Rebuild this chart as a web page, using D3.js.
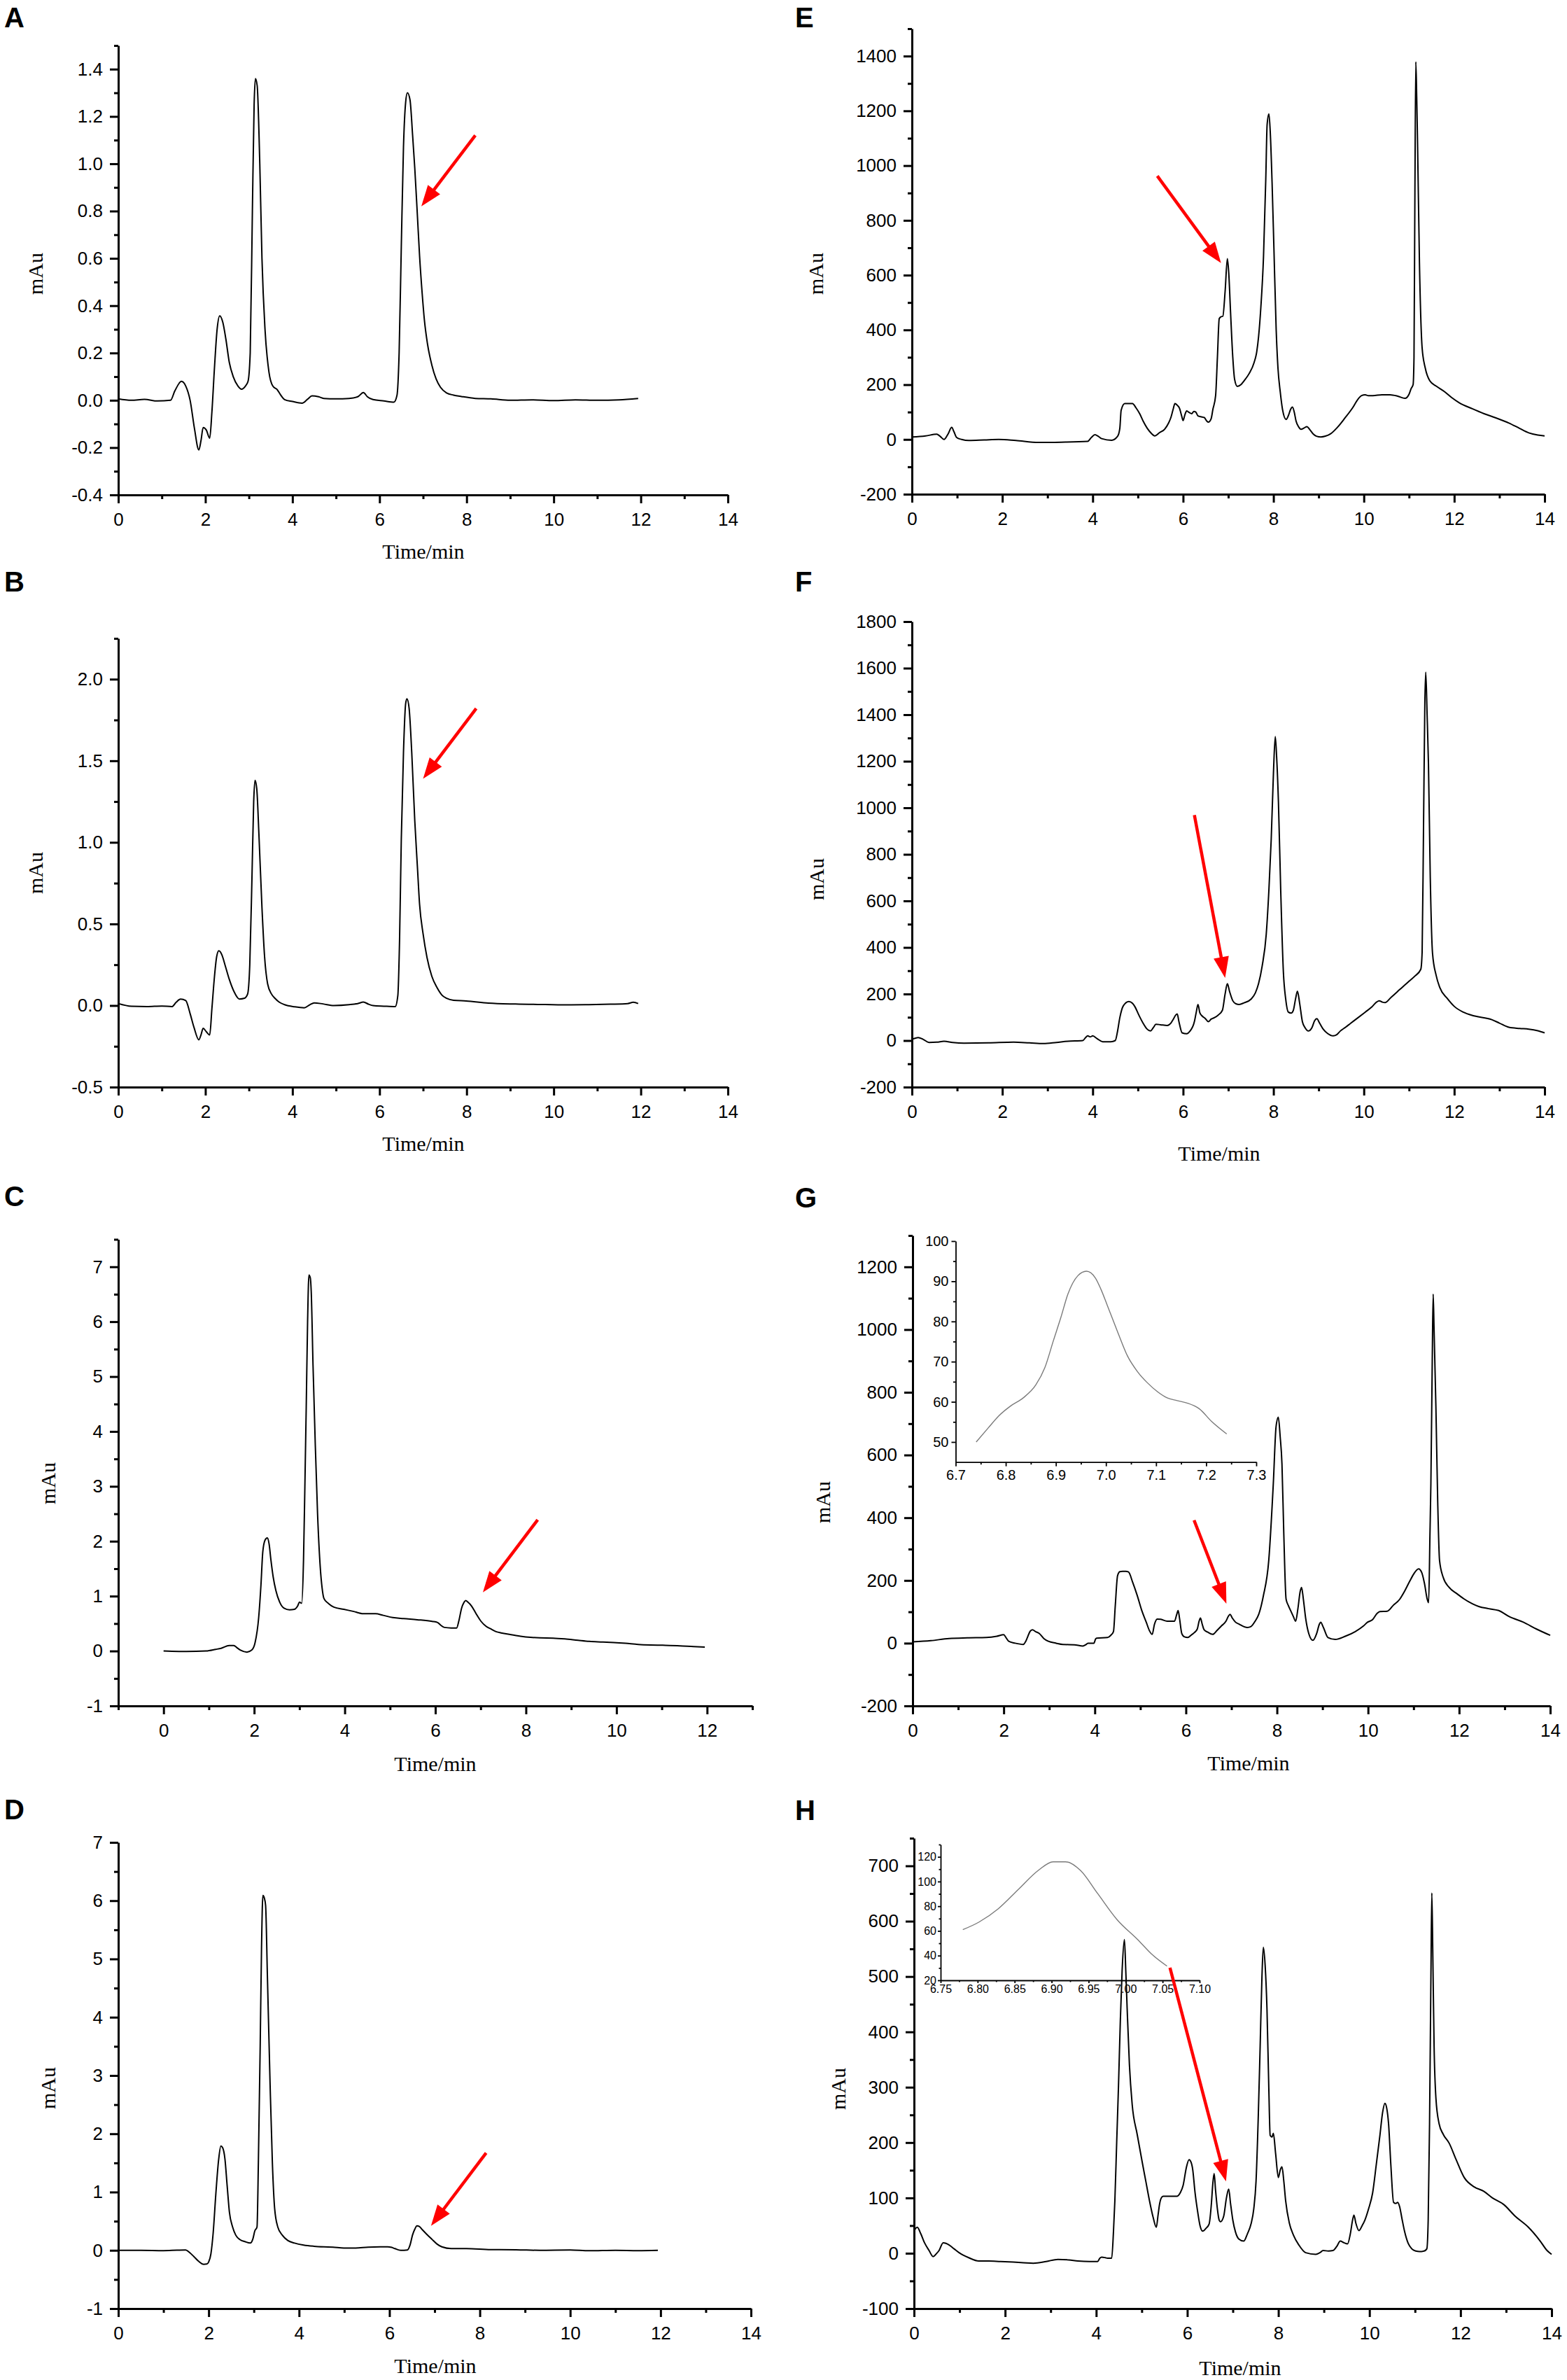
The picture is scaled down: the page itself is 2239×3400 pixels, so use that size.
<!DOCTYPE html>
<html><head><meta charset="utf-8">
<script src="https://cdn.jsdelivr.net/npm/d3@7"></script>
<style>body{margin:0;background:#fff}svg{display:block}</style>
</head><body>
<svg id="chart" width="2239" height="3400"></svg>
<script>
// ---------------- DATA ----------------
const seriesA = [[0,0.006],[0.3,0.0],[0.6,0.004],[0.9,-0.003],[1.2,0.0],[1.3,0.04],[1.45,0.08],[1.55,0.06],[1.65,0.0],[1.75,-0.12],[1.85,-0.21],[1.9,-0.17],[1.95,-0.115],[2.02,-0.125],[2.1,-0.16],[2.15,-0.05],[2.21,0.14],[2.27,0.3],[2.33,0.357],[2.4,0.33],[2.47,0.26],[2.55,0.16],[2.64,0.1],[2.75,0.06],[2.83,0.047],[2.92,0.06],[2.98,0.08],[3.03,0.2],[3.08,0.8],[3.12,1.25],[3.15,1.36],[3.19,1.33],[3.25,1.0],[3.3,0.6],[3.37,0.3],[3.46,0.12],[3.55,0.06],[3.65,0.045],[3.72,0.025],[3.82,0.003],[4.0,-0.005],[4.22,-0.012],[4.35,0.005],[4.45,0.019],[4.6,0.015],[4.72,0.008],[5.0,0.006],[5.3,0.008],[5.5,0.015],[5.63,0.033],[5.72,0.015],[5.85,0.003],[6.1,-0.003],[6.33,-0.008],[6.4,0.02],[6.45,0.2],[6.5,0.65],[6.55,1.07],[6.6,1.26],[6.64,1.30],[6.7,1.27],[6.76,1.12],[6.81,0.98],[6.87,0.78],[6.92,0.61],[6.98,0.45],[7.03,0.34],[7.1,0.24],[7.2,0.15],[7.3,0.09],[7.4,0.055],[7.54,0.031],[7.7,0.022],[7.88,0.016],[8.2,0.008],[8.56,0.006],[9.0,0.0],[9.5,0.002],[10.0,-0.001],[10.5,0.002],[11.0,0.0],[11.5,0.002],[11.94,0.008]];
const seriesB = [[0,0.012],[0.3,-0.005],[0.66,-0.007],[1.0,-0.003],[1.23,-0.007],[1.33,0.02],[1.43,0.04],[1.55,0.03],[1.65,-0.05],[1.74,-0.135],[1.85,-0.21],[1.9,-0.18],[1.95,-0.14],[2.02,-0.16],[2.1,-0.18],[2.15,-0.02],[2.21,0.18],[2.26,0.3],[2.31,0.335],[2.38,0.31],[2.45,0.25],[2.55,0.16],[2.65,0.09],[2.78,0.04],[2.9,0.045],[2.97,0.07],[3.02,0.25],[3.07,0.78],[3.11,1.25],[3.14,1.38],[3.18,1.33],[3.23,1.05],[3.3,0.6],[3.36,0.3],[3.43,0.133],[3.52,0.07],[3.6,0.044],[3.7,0.02],[3.82,0.005],[4.05,-0.008],[4.27,-0.014],[4.4,0.005],[4.5,0.016],[4.7,0.01],[4.95,0.0],[5.3,0.005],[5.5,0.012],[5.63,0.021],[5.75,0.008],[5.85,0.0],[6.1,-0.004],[6.36,-0.007],[6.42,0.06],[6.46,0.4],[6.5,1.02],[6.55,1.55],[6.6,1.85],[6.63,1.88],[6.68,1.82],[6.74,1.55],[6.81,1.13],[6.87,0.85],[6.92,0.62],[7.0,0.44],[7.09,0.295],[7.2,0.18],[7.32,0.11],[7.43,0.065],[7.54,0.044],[7.7,0.032],[7.99,0.028],[8.5,0.015],[9.12,0.009],[9.8,0.006],[10.4,0.004],[10.81,0.005],[11.3,0.008],[11.7,0.012],[11.83,0.02],[11.94,0.012]];
const seriesC = [[0,0],[0.5,-0.01],[0.94,0],[1.15,0.03],[1.27,0.05],[1.45,0.1],[1.55,0.1],[1.62,0.06],[1.7,0.014],[1.84,-0.02],[1.95,0.02],[2.02,0.15],[2.1,0.61],[2.15,1.2],[2.19,1.8],[2.24,2.02],[2.29,2.06],[2.33,1.95],[2.37,1.66],[2.42,1.35],[2.48,1.1],[2.57,0.88],[2.66,0.78],[2.78,0.75],[2.89,0.76],[2.96,0.82],[3.0,0.89],[3.05,0.87],[3.09,1.66],[3.12,3.0],[3.15,4.45],[3.18,6.0],[3.21,6.85],[3.24,6.8],[3.26,6.55],[3.3,5.2],[3.35,3.75],[3.4,2.5],[3.46,1.52],[3.5,1.15],[3.54,0.96],[3.65,0.86],[3.76,0.80],[3.98,0.76],[4.2,0.72],[4.41,0.68],[4.68,0.68],[4.85,0.65],[5.06,0.61],[5.3,0.59],[5.6,0.57],[5.93,0.54],[6.05,0.52],[6.12,0.47],[6.2,0.43],[6.35,0.42],[6.47,0.42],[6.52,0.55],[6.58,0.78],[6.63,0.88],[6.67,0.92],[6.72,0.89],[6.8,0.82],[6.9,0.68],[7.01,0.54],[7.12,0.45],[7.23,0.40],[7.35,0.35],[7.45,0.33],[7.65,0.30],[7.88,0.27],[8.1,0.25],[8.31,0.24],[8.6,0.235],[8.86,0.22],[9.15,0.195],[9.4,0.175],[9.7,0.165],[9.94,0.155],[10.2,0.14],[10.48,0.12],[10.75,0.11],[11.02,0.105],[11.4,0.095],[11.7,0.08],[11.95,0.07]];
const seriesD = [[0,0],[0.5,0.0],[1.0,-0.005],[1.3,0.003],[1.49,0.007],[1.58,-0.04],[1.67,-0.105],[1.78,-0.19],[1.89,-0.24],[1.96,-0.235],[2.0,-0.2],[2.05,-0.06],[2.1,0.3],[2.16,0.98],[2.22,1.55],[2.27,1.79],[2.31,1.76],[2.36,1.57],[2.41,1.1],[2.46,0.65],[2.53,0.4],[2.6,0.26],[2.7,0.18],[2.8,0.15],[2.92,0.125],[2.98,0.2],[3.02,0.33],[3.07,0.4],[3.1,1.5],[3.14,3.49],[3.17,5.2],[3.2,6.09],[3.23,6.05],[3.26,5.92],[3.3,4.7],[3.36,2.83],[3.41,1.5],[3.46,0.72],[3.53,0.4],[3.63,0.26],[3.75,0.17],[3.9,0.125],[4.1,0.09],[4.33,0.07],[4.55,0.06],[4.75,0.055],[4.99,0.04],[5.25,0.04],[5.53,0.055],[5.8,0.06],[5.96,0.06],[6.05,0.05],[6.12,0.03],[6.25,0.0],[6.4,0.007],[6.46,0.1],[6.51,0.26],[6.56,0.36],[6.61,0.42],[6.66,0.41],[6.72,0.36],[6.82,0.28],[6.94,0.19],[7.05,0.11],[7.16,0.06],[7.37,0.03],[7.7,0.03],[8.24,0.013],[8.8,0.01],[9.33,0.0],[10.0,0.005],[10.42,-0.007],[11.0,0.0],[11.5,-0.005],[11.94,0]];
const seriesE = [[0,9],[0.3,13],[0.55,19],[0.62,12],[0.71,0],[0.8,20],[0.88,44],[0.93,28],[0.99,7],[1.1,0],[1.26,-4],[1.6,-2],[1.92,0],[2.3,-4],[2.8,-11],[3.3,-10],[3.89,-7],[3.97,7],[4.05,17],[4.12,12],[4.2,3],[4.42,-3],[4.55,11],[4.6,40],[4.63,107],[4.71,131],[4.88,131],[4.96,115],[5.04,94],[5.12,66],[5.21,40],[5.3,22],[5.37,13],[5.48,25],[5.59,37],[5.68,60],[5.73,80],[5.78,110],[5.82,131],[5.87,125],[5.92,114],[5.97,85],[6.0,69],[6.04,90],[6.08,104],[6.14,98],[6.19,94],[6.24,102],[6.28,100],[6.33,86],[6.39,83],[6.47,80],[6.52,68],[6.56,63],[6.62,75],[6.66,110],[6.72,160],[6.76,300],[6.8,441],[6.84,448],[6.88,450],[6.93,540],[6.98,660],[7.01,610],[7.05,467],[7.1,300],[7.14,220],[7.2,194],[7.28,200],[7.35,214],[7.46,240],[7.57,280],[7.63,320],[7.67,374],[7.72,480],[7.78,668],[7.83,950],[7.86,1150],[7.9,1189],[7.93,1120],[7.97,935],[8.01,700],[8.06,401],[8.1,260],[8.15,174],[8.2,110],[8.28,73],[8.33,87],[8.38,110],[8.42,118],[8.46,100],[8.5,67],[8.56,45],[8.61,37],[8.68,42],[8.74,47],[8.8,37],[8.88,20],[8.95,12],[9.05,9],[9.15,12],[9.26,20],[9.42,45],[9.59,80],[9.75,115],[9.87,147],[9.95,160],[10.03,163],[10.1,160],[10.2,160],[10.4,163],[10.58,163],[10.75,158],[10.91,150],[11.0,165],[11.05,187],[11.09,200],[11.11,300],[11.13,900],[11.15,1379],[11.17,1250],[11.19,1069],[11.23,650],[11.29,334],[11.36,260],[11.46,214],[11.6,195],[11.79,174],[11.95,152],[12.11,134],[12.4,112],[12.66,94],[12.9,80],[13.21,60],[13.45,40],[13.65,24],[13.85,16],[14.0,13]];
const seriesF = [[0,5],[0.14,13],[0.25,5],[0.38,-8],[0.55,-7],[0.71,-3],[0.9,-8],[1.15,-11],[1.7,-10],[2.25,-7],[2.6,-10],[2.91,-13],[3.2,-8],[3.45,-3],[3.78,0],[3.84,12],[3.89,20],[3.95,16],[4.0,20],[4.1,8],[4.22,-5],[4.4,-5],[4.5,0],[4.55,40],[4.6,98],[4.68,150],[4.8,168],[4.88,160],[4.93,147],[5.02,110],[5.12,73],[5.2,50],[5.28,41],[5.34,55],[5.4,70],[5.5,68],[5.65,65],[5.73,75],[5.78,90],[5.84,110],[5.87,114],[5.91,80],[5.98,33],[6.08,29],[6.15,40],[6.25,81],[6.29,120],[6.33,155],[6.37,120],[6.42,106],[6.49,95],[6.56,81],[6.62,92],[6.69,98],[6.78,110],[6.87,130],[6.93,200],[6.98,244],[7.03,210],[7.1,171],[7.17,158],[7.24,155],[7.35,162],[7.51,179],[7.6,205],[7.67,244],[7.75,320],[7.84,456],[7.9,650],[7.95,863],[8.0,1150],[8.04,1306],[8.07,1220],[8.11,1026],[8.16,650],[8.22,293],[8.27,180],[8.33,122],[8.39,118],[8.44,130],[8.49,180],[8.53,212],[8.58,160],[8.64,81],[8.7,55],[8.77,41],[8.85,55],[8.91,85],[8.96,94],[9.02,75],[9.1,49],[9.2,30],[9.32,20],[9.4,25],[9.48,41],[9.6,58],[9.7,73],[9.85,95],[10.03,122],[10.18,145],[10.28,165],[10.34,171],[10.41,165],[10.47,163],[10.6,185],[10.8,220],[11.0,255],[11.13,277],[11.26,306],[11.29,380],[11.32,900],[11.35,1450],[11.37,1583],[11.4,1400],[11.43,1189],[11.47,700],[11.52,375],[11.6,280],[11.68,228],[11.85,180],[12.0,147],[12.2,122],[12.44,106],[12.83,90],[13.0,75],[13.21,57],[13.45,52],[13.65,49],[13.85,42],[14.0,33]];
const seriesG = [[0,4],[0.4,8],[0.8,15],[1.2,17],[1.62,18],[1.85,22],[2.0,27],[2.05,18],[2.11,6],[2.25,0],[2.43,-4],[2.48,5],[2.52,18],[2.58,38],[2.63,43],[2.7,37],[2.78,31],[2.88,15],[2.98,6],[3.15,0],[3.3,-4],[3.55,-5],[3.74,-9],[3.8,-5],[3.85,0],[3.98,0],[4.02,14],[4.04,16],[4.28,18],[4.35,25],[4.41,37],[4.45,120],[4.5,215],[4.55,228],[4.61,229],[4.68,229],[4.74,227],[4.83,195],[4.93,153],[5.03,105],[5.13,67],[5.2,40],[5.26,28],[5.31,60],[5.37,77],[5.45,76],[5.59,70],[5.75,70],[5.8,92],[5.83,104],[5.86,80],[5.91,31],[5.97,20],[6.04,18],[6.12,26],[6.18,33],[6.25,45],[6.29,70],[6.32,80],[6.36,60],[6.4,43],[6.48,35],[6.59,28],[6.68,40],[6.78,55],[6.88,70],[6.93,85],[6.97,92],[7.02,80],[7.09,67],[7.18,60],[7.27,53],[7.35,50],[7.43,53],[7.52,70],[7.6,92],[7.7,150],[7.82,264],[7.92,509],[7.98,690],[8.03,721],[8.07,660],[8.11,571],[8.15,350],[8.2,141],[8.25,120],[8.3,104],[8.36,85],[8.41,70],[8.46,110],[8.51,165],[8.54,178],[8.58,140],[8.63,80],[8.7,30],[8.79,9],[8.87,30],[8.93,60],[8.96,67],[9.02,50],[9.12,18],[9.28,12],[9.5,22],[9.72,37],[9.9,55],[9.99,67],[10.1,75],[10.2,95],[10.26,101],[10.42,102],[10.55,120],[10.7,141],[10.8,165],[10.91,196],[11.0,220],[11.11,237],[11.18,225],[11.24,190],[11.3,140],[11.33,129],[11.36,350],[11.38,509],[11.41,900],[11.43,1113],[11.45,1000],[11.49,755],[11.53,450],[11.57,264],[11.65,210],[11.78,178],[11.95,158],[12.11,141],[12.3,125],[12.43,117],[12.65,110],[12.87,104],[13.1,85],[13.41,67],[13.7,45],[14.0,25]];
const seriesH = [[0,40],[0.07,47],[0.15,35],[0.23,19],[0.33,5],[0.42,-6],[0.5,0],[0.55,5],[0.64,19],[0.7,18],[0.77,15],[0.88,8],[0.99,1],[1.2,-8],[1.42,-14],[1.64,-14],[1.9,-15],[2.18,-16],[2.4,-17],[2.62,-18],[2.9,-15],[3.16,-11],[3.4,-12],[3.6,-14],[3.85,-15],[4.03,-15],[4.08,-9],[4.12,-7],[4.2,-8],[4.25,-9],[4.34,-9],[4.38,40],[4.41,95],[4.45,200],[4.49,303],[4.53,420],[4.57,512],[4.62,567],[4.65,510],[4.68,442],[4.73,340],[4.79,269],[4.9,215],[5.01,165],[5.09,130],[5.17,95],[5.25,65],[5.32,47],[5.36,70],[5.39,88],[5.43,100],[5.47,103],[5.6,103],[5.77,103],[5.85,110],[5.91,123],[5.98,155],[6.04,169],[6.08,165],[6.12,151],[6.17,110],[6.23,74],[6.28,50],[6.34,40],[6.41,45],[6.48,53],[6.53,90],[6.56,125],[6.59,144],[6.62,115],[6.66,81],[6.7,60],[6.73,57],[6.8,67],[6.86,100],[6.91,116],[6.95,90],[7.0,60],[7.06,38],[7.13,26],[7.24,22],[7.32,35],[7.4,53],[7.46,80],[7.51,130],[7.56,250],[7.6,373],[7.64,500],[7.67,553],[7.71,520],[7.75,442],[7.79,300],[7.82,213],[7.86,210],[7.89,217],[7.94,180],[8.0,137],[8.04,150],[8.08,156],[8.12,130],[8.16,95],[8.24,55],[8.33,33],[8.45,15],[8.6,1],[8.82,-2],[8.93,2],[8.98,5],[9.1,4],[9.2,5],[9.28,12],[9.36,22],[9.44,19],[9.52,17],[9.58,35],[9.63,60],[9.66,69],[9.7,55],[9.77,41],[9.84,50],[9.9,60],[9.98,80],[10.07,109],[10.15,160],[10.23,213],[10.29,255],[10.34,271],[10.38,262],[10.42,234],[10.47,160],[10.53,92],[10.58,90],[10.62,92],[10.66,85],[10.72,60],[10.77,40],[10.85,18],[10.93,8],[11.02,4],[11.1,3],[11.2,4],[11.26,8],[11.29,60],[11.32,234],[11.35,500],[11.37,651],[11.39,550],[11.42,373],[11.46,280],[11.53,234],[11.62,215],[11.75,199],[11.9,170],[12.08,137],[12.3,120],[12.51,112],[12.7,100],[12.95,88],[13.2,67],[13.49,47],[13.75,22],[13.9,5],[14.0,-2]];
const insetG = [[6.741,50],[6.765,53.5],[6.786,56.5],[6.81,59],[6.835,61],[6.86,64.2],[6.878,68.5],[6.895,75.2],[6.91,81],[6.924,86.8],[6.944,91.4],[6.961,92.5],[6.979,90.8],[6.99,88],[7.003,83.9],[7.023,77.5],[7.043,71.4],[7.063,67.5],[7.083,64.7],[7.103,62.5],[7.122,61],[7.142,60.3],[7.162,59.7],[7.186,58.3],[7.211,55.1],[7.241,52]];
const insetH = [[6.78,61],[6.802,67.2],[6.828,78],[6.855,93.6],[6.882,109],[6.902,116],[6.919,116],[6.939,109],[6.962,90.5],[6.989,68.8],[7.016,53.2],[7.036,40.8],[7.056,31.5]];

// arrows: [tail, tip] in data units of each panel
const arrowA = [[8.2,1.12],[6.96,0.82]];
const arrowB = [[8.22,1.82],[7.0,1.39]];
const arrowC = [[8.26,2.39],[7.05,1.07]];
const arrowD = [[8.14,1.67],[6.92,0.42]];
const arrowE = [[5.43,962],[6.84,644]];
const arrowF = [[6.25,969],[6.93,269]];
const arrowG = [[6.18,392],[6.89,126]];
const arrowH = [[5.62,516],[6.85,130]];

// ticks
const xTicks14 = [0,2,4,6,8,10,12,14];
const xMinor14 = [1,3,5,7,9,11,13];
const xTicksC = [0,2,4,6,8,10,12];
const xMinorC = [-1,1,3,5,7,9,11,13];
const yTicksA = [-0.4,-0.2,0,0.2,0.4,0.6,0.8,1.0,1.2,1.4];
const yMinorA = [-0.3,-0.1,0.1,0.3,0.5,0.7,0.9,1.1,1.3,1.5];
const yTicksB = [-0.5,0,0.5,1.0,1.5,2.0];
const yMinorB = [-0.25,0.25,0.75,1.25,1.75,2.25];
const yTicksC = [-1,0,1,2,3,4,5,6,7];
const yMinorC = [-0.5,0.5,1.5,2.5,3.5,4.5,5.5,6.5,7.5];
const yTicksD = [-1,0,1,2,3,4,5,6,7];
const yMinorD = [-0.5,0.5,1.5,2.5,3.5,4.5,5.5,6.5];
const yTicksE = [-200,0,200,400,600,800,1000,1200,1400];
const yMinorE = [-100,100,300,500,700,900,1100,1300,1500];
const yTicksF = [-200,0,200,400,600,800,1000,1200,1400,1600,1800];
const yMinorF = [-100,100,300,500,700,900,1100,1300,1500,1700];
const yTicksG = [-200,0,200,400,600,800,1000,1200];
const yMinorG = [-100,100,300,500,700,900,1100,1300];
const yTicksH = [-100,0,100,200,300,400,500,600,700];
const yMinorH = [-50,50,150,250,350,450,550,650,750];
const xTicksInG = [6.7,6.8,6.9,7.0,7.1,7.2,7.3];
const xMinorInG = [6.75,6.85,6.95,7.05,7.15,7.25];
const yTicksInG = [50,60,70,80,90,100];
const yMinorInG = [55,65,75,85,95];
const xTicksInH = [6.75,6.80,6.85,6.90,6.95,7.00,7.05,7.10];
const xMinorInH = [6.775,6.825,6.875,6.925,6.975,7.025,7.075];
const yTicksInH = [20,40,60,80,100,120];
const yMinorInH = [30,50,70,90,110,130];

// ---------------- LAYOUT ----------------
const panels = [
 {name:"A", data:seriesA, arrow:arrowA, xT:xTicks14, xM:xMinor14, yT:yTicksA, yM:yMinorA, yDec:1,
  xDom:[0,14], xPx:[169,1040], yDom:[-0.4,1.5], yPx:[707,65], letter:[6,39], yTitle:[50,391], xTitle:[605,787]},
 {name:"B", data:seriesB, arrow:arrowB, xT:xTicks14, xM:xMinor14, yT:yTicksB, yM:yMinorB, yDec:1,
  xDom:[0,14], xPx:[169,1040], yDom:[-0.5,2.25], yPx:[1553,912], letter:[6,845], yTitle:[50,1247], xTitle:[605,1633]},
 {name:"C", data:seriesC, arrow:arrowC, xT:xTicksC, xM:xMinorC, yT:yTicksC, yM:yMinorC, yDec:0,
  xDom:[-1,13], xPx:[169,1075], yDom:[-1,7.5], yPx:[2437,1770.5], letter:[6,1723], yTitle:[68,2119], xTitle:[622,2519]},
 {name:"D", data:seriesD, arrow:arrowD, xT:xTicks14, xM:xMinor14, yT:yTicksD, yM:yMinorD, yDec:0,
  xDom:[0,14], xPx:[169,1073], yDom:[-1,7], yPx:[3298,2632], letter:[6,2599], yTitle:[68,2983], xTitle:[622,3379]},
 {name:"E", data:seriesE, arrow:arrowE, xT:xTicks14, xM:xMinor14, yT:yTicksE, yM:yMinorE, yDec:0,
  xDom:[0,14], xPx:[1303,2207], yDom:[-200,1500], yPx:[706,41], letter:[1136,39], yTitle:[1165,391], xTitle:null},
 {name:"F", data:seriesF, arrow:arrowF, xT:xTicks14, xM:xMinor14, yT:yTicksF, yM:yMinorF, yDec:0,
  xDom:[0,14], xPx:[1303,2207], yDom:[-200,1800], yPx:[1553,888], letter:[1136,845], yTitle:[1166,1256], xTitle:[1742,1647]},
 {name:"G", data:seriesG, arrow:arrowG, xT:xTicks14, xM:xMinor14, yT:yTicksG, yM:yMinorG, yDec:0,
  xDom:[0,14], xPx:[1304,2215], yDom:[-200,1300], yPx:[2437,1765], letter:[1136,1725], yTitle:[1175,2146], xTitle:[1784,2518],
  inset:{data:insetG, xT:xTicksInG, xM:xMinorInG, yT:yTicksInG, yM:yMinorInG, xDec:1, yDec:0,
         xDom:[6.7,7.3], xPx:[1365.5,1795], yDom:[45,100], yPx:[2088.7,1773], fs:20, major:6, minor:3.5, padX:5, padY:4}},
 {name:"H", data:seriesH, arrow:arrowH, xT:xTicks14, xM:xMinor14, yT:yTicksH, yM:yMinorH, yDec:0,
  xDom:[0,14], xPx:[1306,2217], yDom:[-100,750], yPx:[3298,2626], letter:[1136,2600], yTitle:[1197,2984], xTitle:[1772,3382],
  inset:{data:insetH, xT:xTicksInH, xM:xMinorInH, yT:yTicksInH, yM:yMinorInH, xDec:2, yDec:0,
         xDom:[6.75,7.10], xPx:[1344,1714], yDom:[20,130], yPx:[2829,2635], fs:16, major:4, minor:2.5, padX:3, padY:2}}
];

const SANS = "'Liberation Sans', Arial, Helvetica, sans-serif";
const SERIF = "'Liberation Serif', 'Times New Roman', Times, serif";
const RED = "#ff0000";

const svg = d3.select("#chart");
svg.append("rect").attr("width",2239).attr("height",3400).attr("fill","#fff");

function fmt(dec){ return d => (d < 0 ? "-" : "") + Math.abs(d).toFixed(dec); }

function drawAxes(g, x, y, o){
  const y0 = y.range()[0], x0 = x.range()[0];
  const gx = g.append("g").attr("transform",`translate(0,${y0})`)
    .call(d3.axisBottom(x).tickValues(o.xT).tickFormat(fmt(o.xDec)).tickSize(o.major).tickSizeOuter(0).tickPadding(o.padX));
  if (o.xM.length){
    g.append("g").attr("transform",`translate(0,${y0})`)
      .call(d3.axisBottom(x).tickValues(o.xM).tickFormat("").tickSize(o.minor).tickSizeOuter(0))
      .select(".domain").remove();
  }
  const gy = g.append("g").attr("transform",`translate(${x0},0)`)
    .call(d3.axisLeft(y).tickValues(o.yT).tickFormat(fmt(o.yDec)).tickSize(o.major).tickSizeOuter(0).tickPadding(o.padY));
  if (o.yM.length){
    g.append("g").attr("transform",`translate(${x0},0)`)
      .call(d3.axisLeft(y).tickValues(o.yM).tickFormat("").tickSize(o.minor).tickSizeOuter(0))
      .select(".domain").remove();
  }
  g.selectAll(".domain, .tick line").attr("stroke","#000").attr("stroke-width",o.sw);
  g.selectAll(".tick text").attr("font-family",SANS).attr("font-size",o.fs).attr("fill","#000");
  gx.attr("font-size",null).attr("font-family",null);
  gy.attr("font-size",null).attr("font-family",null);
}

function drawArrow(g, x, y, a){
  const x1 = x(a[0][0]), y1 = y(a[0][1]), x2 = x(a[1][0]), y2 = y(a[1][1]);
  const ang = Math.atan2(y2 - y1, x2 - x1);
  const L = 30, W = 11;
  const bx = x2 - L*Math.cos(ang), by = y2 - L*Math.sin(ang);
  g.append("line").attr("x1",x1).attr("y1",y1).attr("x2",bx+3*Math.cos(ang)).attr("y2",by+3*Math.sin(ang))
    .attr("stroke",RED).attr("stroke-width",4.5).attr("stroke-linecap","butt");
  g.append("path")
    .attr("d",`M${x2},${y2}L${bx + W*Math.sin(ang)},${by - W*Math.cos(ang)}L${bx - W*Math.sin(ang)},${by + W*Math.cos(ang)}Z`)
    .attr("fill",RED);
}

panels.forEach(p => {
  const g = svg.append("g");
  const x = d3.scaleLinear().domain(p.xDom).range(p.xPx);
  const y = d3.scaleLinear().domain(p.yDom).range(p.yPx);

  drawAxes(g, x, y, {xT:p.xT, xM:p.xM, yT:p.yT, yM:p.yM, xDec:0, yDec:p.yDec,
                     fs:26, major:12, minor:6, padX:14, padY:10, sw:3});

  const line = d3.line().x(d => x(d[0])).y(d => y(d[1])).curve(d3.curveMonotoneX);
  g.append("path").datum(p.data).attr("d",line).attr("fill","none")
    .attr("stroke","#000").attr("stroke-width",2).attr("stroke-linejoin","round");

  if (p.inset){
    const q = p.inset;
    const gi = g.append("g");
    const xi = d3.scaleLinear().domain(q.xDom).range(q.xPx);
    const yi = d3.scaleLinear().domain(q.yDom).range(q.yPx);
    drawAxes(gi, xi, yi, {xT:q.xT, xM:q.xM, yT:q.yT, yM:q.yM, xDec:q.xDec, yDec:q.yDec,
                          fs:q.fs, major:q.major, minor:q.minor, padX:q.padX, padY:q.padY, sw:1.8});
    const li = d3.line().x(d => xi(d[0])).y(d => yi(d[1])).curve(d3.curveMonotoneX);
    gi.append("path").datum(q.data).attr("d",li).attr("fill","none")
      .attr("stroke","#7a7a7a").attr("stroke-width",1.4);
  }

  drawArrow(g, x, y, p.arrow);

  g.append("text").attr("x",p.letter[0]).attr("y",p.letter[1]).text(p.name)
    .attr("font-family",SANS).attr("font-weight","bold").attr("font-size",40).attr("fill","#000");

  g.append("text").attr("transform",`translate(${p.yTitle[0]},${p.yTitle[1]}) rotate(-90)`)
    .attr("text-anchor","middle").attr("dominant-baseline","central")
    .attr("font-family",SERIF).attr("font-size",30).attr("fill","#000").text("mAu");

  if (p.xTitle){
    g.append("text").attr("x",p.xTitle[0]).attr("y",p.xTitle[1])
      .attr("text-anchor","middle").attr("dominant-baseline","central")
      .attr("font-family",SERIF).attr("font-size",30).attr("fill","#000").text("Time/min");
  }
});
</script>
</body></html>
